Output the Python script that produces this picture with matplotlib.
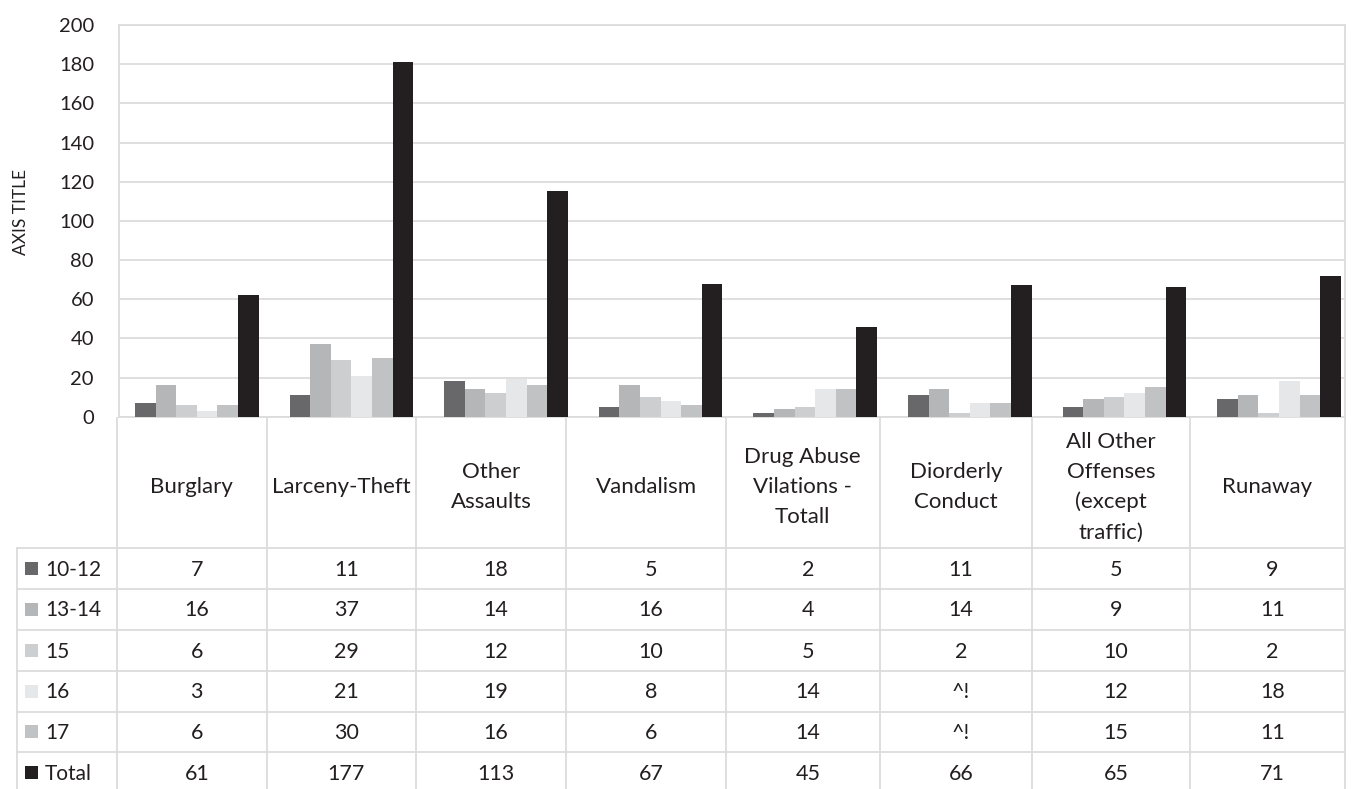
import matplotlib
matplotlib.use("Agg")
import matplotlib.pyplot as plt
from matplotlib.patches import Rectangle

# ---------------- data ----------------
categories = ["Burglary", "Larceny-Theft", "Other\nAssaults", "Vandalism",
              "Drug Abuse\nVilations -\nTotall", "Diorderly\nConduct",
              "All Other\nOffenses\n(except\ntraffic)", "Runaway"]
series_names = ["10-12", "13-14", "15", "16", "17", "Total"]

# bar heights as drawn in the chart
bars_10_12 = [7, 11, 18, 5, 2, 11, 5, 9]
bars_13_14 = [16, 37, 14, 16, 4, 14, 9, 11]
bars_15 = [6, 29, 12, 10, 5, 2, 10, 2]
bars_16 = [3, 21, 19, 8, 14, 7, 12, 18]
bars_17 = [6, 30, 16, 6, 14, 7, 15, 11]
bars_total = [62, 181, 115, 68, 46, 67, 66, 72]

# values as printed in the data table
table_10_12 = ["7", "11", "18", "5", "2", "11", "5", "9"]
table_13_14 = ["16", "37", "14", "16", "4", "14", "9", "11"]
table_15 = ["6", "29", "12", "10", "5", "2", "10", "2"]
table_16 = ["3", "21", "19", "8", "14", "^!", "12", "18"]
table_17 = ["6", "30", "16", "6", "14", "^!", "15", "11"]
table_total = ["61", "177", "113", "67", "45", "66", "65", "71"]

y_ticks = [0, 20, 40, 60, 80, 100, 120, 140, 160, 180, 200]
axis_title = "AXIS TITLE"

# ---------------- style ----------------
colors = ["#68686a", "#b5b6b8", "#cdcecf", "#e6e7e8", "#c1c2c3", "#231f20"]
grid_c = "#dcdcdc"
text_c = "#231f20"
FONT = ["Lato", "DejaVu Sans"]
plt.rcParams["font.family"] = FONT

W, H = 1351, 789
fig = plt.figure(figsize=(W / 100, H / 100), dpi=100)
fig.patch.set_facecolor("white")

ax_l, ax_r, ax_t, ax_b = 119, 1345, 25, 416.7
ax = fig.add_axes([ax_l / W, (H - ax_b) / H, (ax_r - ax_l) / W, (ax_b - ax_t) / H])

all_bars = [bars_10_12, bars_13_14, bars_15, bars_16, bars_17, bars_total]
n = len(all_bars)
bw = 0.8 / n
xs = list(range(len(categories)))
for j, (vals, c) in enumerate(zip(all_bars, colors)):
    ax.bar([x + (j - (n - 1) / 2) * bw for x in xs], vals, width=bw,
           color=c, zorder=3, linewidth=0)

ax.set_ylim(0, 200)
ax.set_xlim(-0.503, 7.427)
ax.set_yticks(y_ticks)
ax.set_yticklabels([str(v) for v in y_ticks], fontsize=14.5, color=text_c)
ax.tick_params(axis="y", length=0, pad=18)
ax.set_xticks([])
ax.grid(axis="y", color=grid_c, linewidth=1.3, zorder=0)
for s in ax.spines.values():
    s.set_color(grid_c)
    s.set_linewidth(1.3)

fig.text(21 / W, 1 - 212 / H, axis_title, rotation=90, ha="center", va="center",
         fontsize=12.5, color=text_c)

# ---------------- data table (pixel overlay) ----------------
ov = fig.add_axes([0, 0, 1, 1], zorder=5)
ov.set_xlim(0, W)
ov.set_ylim(H, 0)
ov.axis("off")
ov.patch.set_alpha(0)

col_edges = [117, 266.5, 416, 566, 726, 879.5, 1032, 1190, 1345]
row_edges = [548, 589, 630, 671, 712, 752, 793]
left_edge = 16.7
lw = 1.3

for xe in col_edges:
    ov.plot([xe, xe], [ax_b, H + 5], color=grid_c, lw=lw, solid_capstyle="butt")
ov.plot([left_edge, left_edge], [row_edges[0], H + 5], color=grid_c, lw=lw)
for ye in row_edges[:-1]:
    ov.plot([left_edge, col_edges[-1]], [ye, ye], color=grid_c, lw=lw)

for i, cat in enumerate(categories):
    cx = (col_edges[i] + col_edges[i + 1]) / 2
    ov.text(cx, 487, cat, ha="center", va="center", fontsize=16,
            color=text_c, linespacing=1.62, multialignment="center")

table_rows = [table_10_12, table_13_14, table_15, table_16, table_17, table_total]
for r, (name, vals, c) in enumerate(zip(series_names, table_rows, colors)):
    cy = (row_edges[r] + row_edges[r + 1]) / 2 + 1
    ov.add_patch(Rectangle((25, cy - 8), 13, 13, facecolor=c, edgecolor="none"))
    ov.text(45, cy, name, ha="left", va="center", fontsize=15, color=text_c)
    for i, v in enumerate(vals):
        cx = (col_edges[i] + col_edges[i + 1]) / 2 + 5
        ov.text(cx, cy, v, ha="center", va="center", fontsize=15.5, color=text_c)

fig.savefig("out.png", dpi=100, facecolor="white")
